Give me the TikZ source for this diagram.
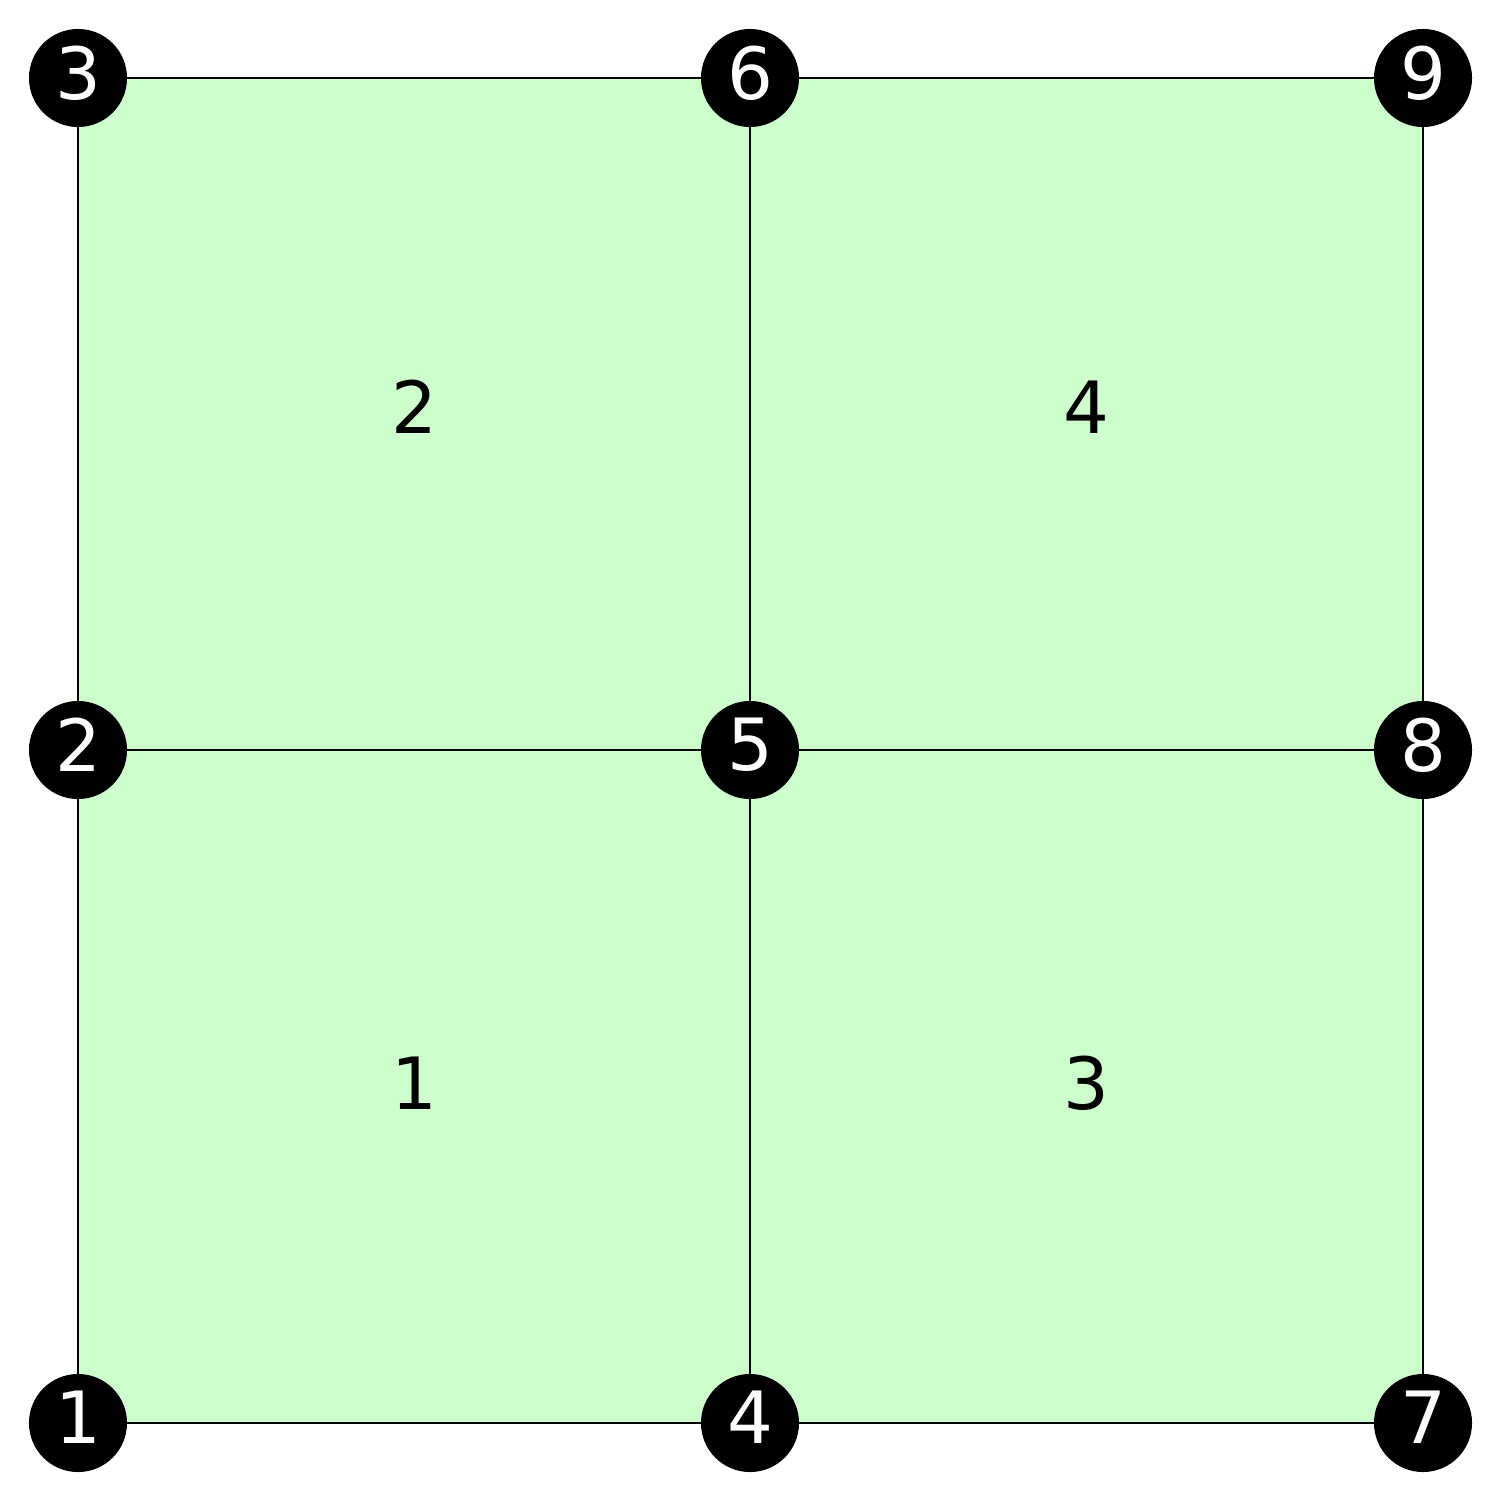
\documentclass[tikz,border=0pt]{standalone}
\usepackage{fontspec}
\setmainfont{DejaVu Sans}
\begin{document}
\begin{tikzpicture}[x=0.01cm,y=-0.01cm,
  vert/.style={circle,fill=black,text=white,inner sep=0pt,minimum size=0.98cm,text depth=0.11cm,font=\fontsize{20.5}{22}\selectfont},
  elem/.style={text=black,font=\fontsize{20.5}{22}\selectfont},
  edge/.style={draw=black,line width=0.3pt},
  cell/.style={fill=meshgreen}]
\definecolor{meshgreen}{HTML}{CCFFCC}
\useasboundingbox (0,0) rectangle (1500,1500);
\coordinate (c1) at (78,1423);
\coordinate (c2) at (78,750);
\coordinate (c3) at (78,78);
\coordinate (c4) at (750,1423);
\coordinate (c5) at (750,750);
\coordinate (c6) at (750,78);
\coordinate (c7) at (1423,1423);
\coordinate (c8) at (1423,750);
\coordinate (c9) at (1423,78);
\fill[cell] (c3) rectangle (c7);
\draw[edge] (c1) -- (c7);
\draw[edge] (c2) -- (c8);
\draw[edge] (c3) -- (c9);
\draw[edge] (c1) -- (c3);
\draw[edge] (c4) -- (c6);
\draw[edge] (c7) -- (c9);
\foreach \i in {1,...,9} \node[vert] (n\i) at (c\i) {\i};
\node[elem] (e1) at (414,1083) {1};
\node[elem] (e2) at (414,407) {2};
\node[elem] (e3) at (1086,1083) {3};
\node[elem] (e4) at (1086,407) {4};
\end{tikzpicture}
\end{document}
